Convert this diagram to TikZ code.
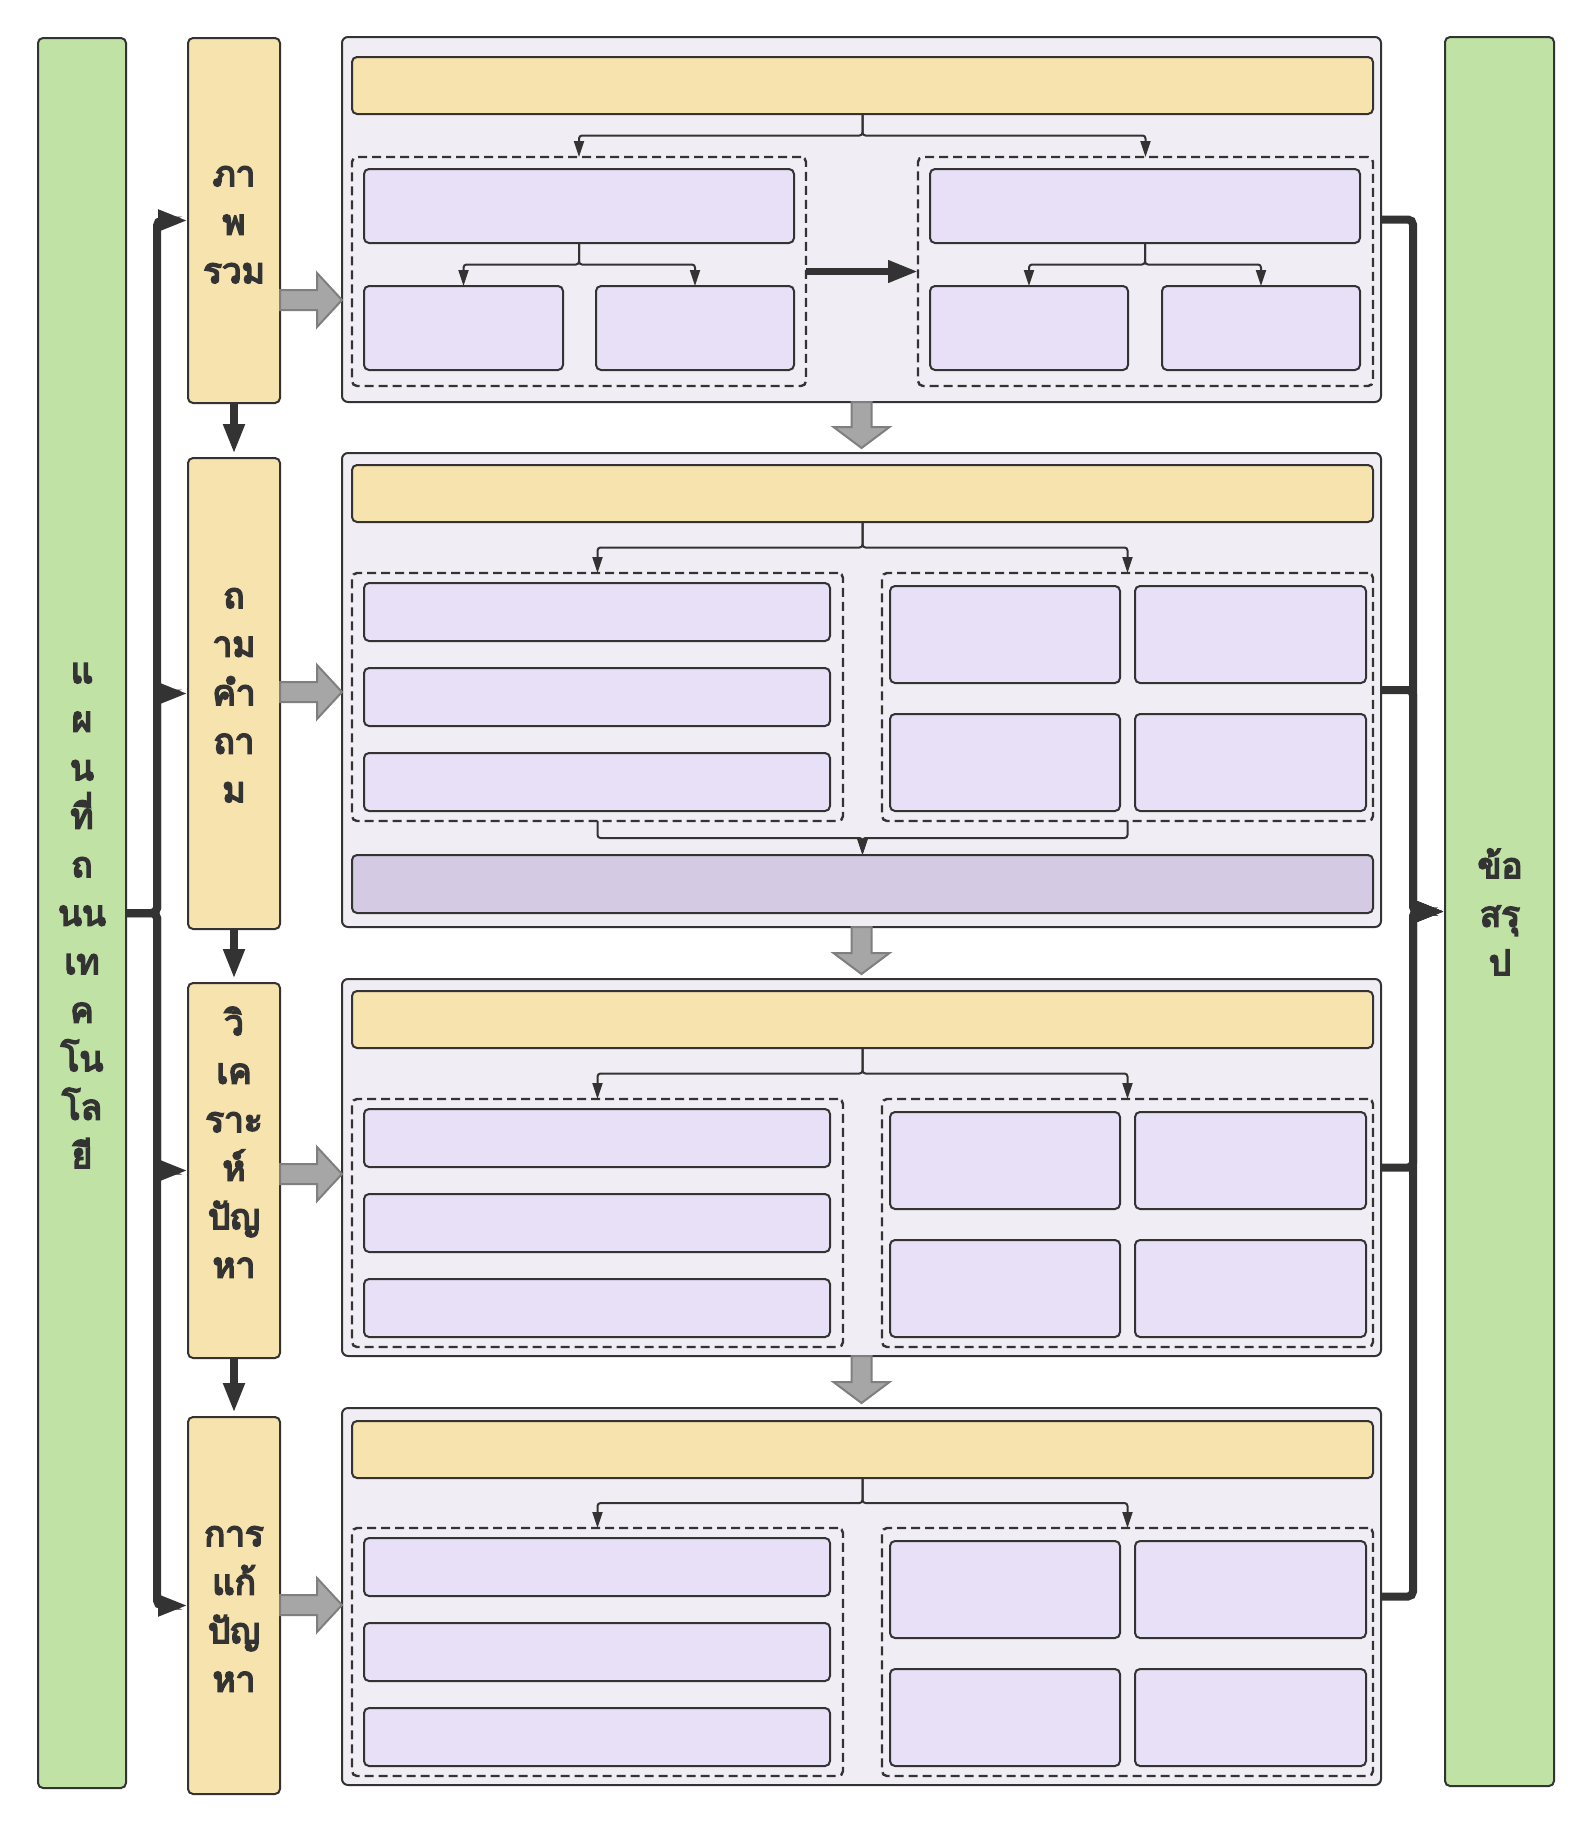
\documentclass[tikz,border=0pt]{standalone}
\usepackage{fontspec}
\newfontfamily\thaifont[Script=Thai,FakeBold=5]{Loma}
\usetikzlibrary{arrows.meta,calc}
\definecolor{cgreen}{HTML}{C0E3A5}
\definecolor{cyellow}{HTML}{F7E3AE}
\definecolor{cpanel}{HTML}{F0EEF4}
\definecolor{cpurple}{HTML}{E8E0F6}
\definecolor{cdpurple}{HTML}{D5CAE3}
\definecolor{cgray}{HTML}{A6A6A6}
\definecolor{cgrayd}{HTML}{7F7F7F}
\definecolor{cline}{HTML}{333333}
\newcommand\bx[6]{\node[#1,minimum width={((#5)-(#3))*1pt},minimum height={((#6)-(#4))*1pt}] (#2) at ({((#3)+(#5))/2},{((#4)+(#6))/2}) {};}
\newcommand\vlines[4]{\foreach \vt [count=\i] in {#4} {\node[lbl] (#1-\i) at (#2,{#3+11+48.5*(\i-1)}) {\vt};}}
\newcommand\garrowR[3]{\path[garrow] let \p1=(#1), \p2=(#2), \p3=(0,#3) in (\x1,{\y3+10pt}) -- ({\x2-25pt},{\y3+10pt}) -- ({\x2-25pt},{\y3+27pt}) -- (\x2,\y3) -- ({\x2-25pt},{\y3-27pt}) -- ({\x2-25pt},{\y3-10pt}) -- (\x1,{\y3-10pt}) -- cycle;}
\newcommand\garrowD[2]{\path[garrow] let \p1=(#1), \p2=(#2) in ({\x1-10pt},\y1) -- ({\x1-10pt},{\y2+26pt}) -- ({\x1-28pt},{\y2+26pt}) -- (\x1,{\y2+5pt}) -- ({\x1+28pt},{\y2+26pt}) -- ({\x1+10pt},{\y2+26pt}) -- ({\x1+10pt},\y1) -- cycle;}
\newcommand\branch[2]{\draw[conn] (#1.south) -- ($(#1.south)!.5!(#1.south|-#2.north)$) -| (#2.north);}
\newcommand\panelB[5]{%
  \bx{panel}{p#1}{342}{#2}{1381}{#3}
  \bx{hdr}{h#1}{352}{#4}{1373}{#4+57}
  \bx{grp}{g#1l}{352}{#5}{843}{#5+248}
  \bx{grp}{g#1r}{882}{#5}{1373}{#5+248}
  \bx{pbox}{l#1a}{364}{#5+10}{830}{#5+68}
  \bx{pbox}{l#1b}{364}{#5+95}{830}{#5+153}
  \bx{pbox}{l#1c}{364}{#5+180}{830}{#5+238}
  \bx{pbox}{r#1a}{890}{#5+13}{1120}{#5+110}
  \bx{pbox}{r#1b}{1135}{#5+13}{1366}{#5+110}
  \bx{pbox}{r#1c}{890}{#5+141}{1120}{#5+238}
  \bx{pbox}{r#1d}{1135}{#5+141}{1366}{#5+238}
  \branch{h#1}{g#1l}
  \branch{h#1}{g#1r}
}
\begin{document}
\begin{tikzpicture}[x=1pt,y=-1pt,
  base/.style={draw=cline,line width=2pt,rounded corners=5pt,inner sep=0pt,outer sep=0pt},
  gbar/.style={base,fill=cgreen},
  ybar/.style={base,fill=cyellow},
  panel/.style={base,fill=cpanel,rounded corners=6pt},
  hdr/.style={base,fill=cyellow},
  pbox/.style={base,fill=cpurple},
  dbox/.style={base,fill=cdpurple},
  grp/.style={draw=cline,line width=2.4pt,dash pattern=on 9pt off 5pt,rounded corners=5pt,inner sep=0pt,outer sep=0pt},
  conn/.style={draw=cline,line width=2pt,rounded corners=3pt,-{Triangle[length=16pt,width=10pt]}},
  trunk/.style={draw=cline,line width=8pt,rounded corners=5pt,-{Triangle[length=30pt,width=20pt]}},
  downarr/.style={draw=cline,line width=8pt,shorten >=4pt,-{Triangle[length=30pt,width=20pt]}},
  thickarr/.style={draw=cline,line width=7pt,-{Triangle[length=30pt,width=21pt]}},
  garrow/.style={fill=cgray,draw=cgrayd,line width=2pt},
  lbl/.style={text=cline,font=\thaifont\fontsize{35}{40}\selectfont,inner sep=0pt,anchor=base}]
\fill[white] (0,0) rectangle (1591,1831);
\useasboundingbox (0,0) rectangle (1591,1831);
% side bars
\bx{gbar}{L}{38}{38}{126}{1788}
\bx{gbar}{R}{1445}{37}{1554}{1786}
\bx{ybar}{b1}{188}{38}{280}{403}
\bx{ybar}{b2}{188}{458}{280}{929}
\bx{ybar}{b3}{188}{983}{280}{1358}
\bx{ybar}{b4}{188}{1417}{280}{1794}
% panel 1
\bx{panel}{p1}{342}{37}{1381}{402}
\bx{hdr}{h1}{352}{57}{1373}{114}
\bx{grp}{g1l}{352}{157}{806}{386}
\bx{grp}{g1r}{918}{157}{1373}{386}
\bx{pbox}{a1}{364}{169}{794}{243}
\bx{pbox}{a2}{364}{286}{563}{370}
\bx{pbox}{a3}{596}{286}{794}{370}
\bx{pbox}{a4}{930}{169}{1360}{243}
\bx{pbox}{a5}{930}{286}{1128}{370}
\bx{pbox}{a6}{1162}{286}{1360}{370}
\branch{h1}{g1l}
\branch{h1}{g1r}
\branch{a1}{a2}
\branch{a1}{a3}
\branch{a4}{a5}
\branch{a4}{a6}
\draw[thickarr] (g1l.east) -- (g1r.west);
% panels 2-4
\panelB{2}{453}{927}{465}{573}
\bx{dbox}{d2}{352}{855}{1373}{913}
\draw[conn] (g2l.south) -- ($(g2l.south)!.5!(g2l.south|-d2.north)$) -| (d2.north);
\draw[conn] (g2r.south) -- ($(g2r.south)!.5!(g2r.south|-d2.north)$) -| (d2.north);
\panelB{3}{979}{1356}{991}{1099}
\panelB{4}{1408}{1785}{1421}{1528}
% gray arrows
\garrowR{b1.east}{p1.west}{300}
\garrowR{b2.east}{p2.west}{692}
\garrowR{b3.east}{p3.west}{1174}
\garrowR{b4.east}{p4.west}{1605}
\garrowD{p1.south}{p2.north}
\garrowD{p2.south}{p3.north}
\garrowD{p3.south}{p4.north}
% down arrows between bars
\draw[downarr] (b1.south) -- (b2.north);
\draw[downarr] (b2.south) -- (b3.north);
\draw[downarr] (b3.south) -- (b4.north);
% trunks
\coordinate (jl) at ($(L.east)+(31,0)$);
\foreach \bb in {b1,b2,b3,b4} {\draw[trunk] (L.east) -- (jl) |- (\bb.west);}
\coordinate (jr) at ($(R.west)+(-32,0)$);
\foreach \pp in {p1,p2,p3,p4} {\draw[trunk] (\pp.east) -| (jr) -- (R.west);}
% texts
\vlines{t1}{234}{175}{ภา,พ,รวม}
\vlines{t2}{234}{597}{ถ,าม,คำ,ถา,ม}
\vlines{t3}{234}{1024}{วิ,เค,ราะ,ห์,ปัญ,หา}
\vlines{t4}{234}{1535}{การ,แก้,ปัญ,หา}
\vlines{tl}{82}{672}{แ,ผ,น,ที่,ถ,นน,เท,ค,โน,โล,ยี}
\vlines{tr}{1500}{867}{ข้อ,สรุ,ป}
\end{tikzpicture}
\end{document}
